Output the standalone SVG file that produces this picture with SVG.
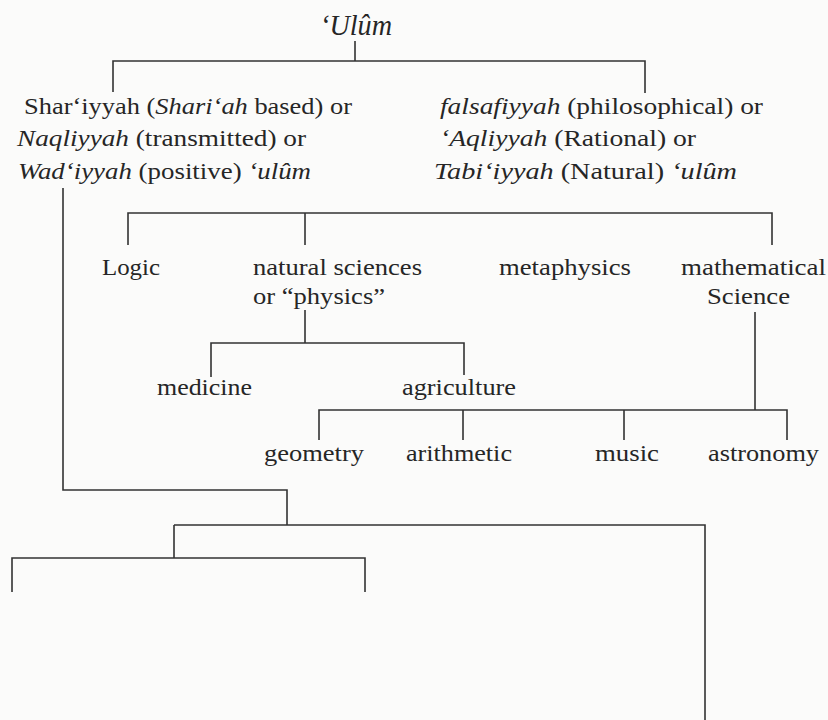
<svg xmlns="http://www.w3.org/2000/svg" width="828" height="720" viewBox="0 0 828 720" font-family="'Liberation Serif', 'DejaVu Serif', serif">
<style>
  text { font-family: 'Liberation Serif', 'DejaVu Serif', serif; fill: #262626; font-size: 24px; }
  .it { font-style: italic; }
  .title { font-size: 30px; font-style: italic; }
  #connectors path { fill: none; stroke: #333; stroke-width: 1.6; }
</style>
<rect width="828" height="720" fill="#fbfbfa"/>
<g id="connectors">
  <path d="M355 41 V61 M113 92 V61 H645 V93"/>
  <path d="M128 245 V213 H772 V245 M305 213 V245"/>
  <path d="M305 310 V343 M211 377 V343 H464 V375"/>
  <path d="M755 312 V410 M319 440 V410 H787 V440 M463 410 V440 M624 410 V440"/>
  <path d="M63 188 V490 H287 V525 M174 525 H705 V720 M174 525 V558 M12 592 V558 H365 V592"/>
</g>
<g id="ulum"><text class="title" x="356" y="35" text-anchor="middle" textLength="72" lengthAdjust="spacingAndGlyphs">‘Ulûm</text></g>
<g id="shariyyah">
  <text x="24" y="114" textLength="328" lengthAdjust="spacingAndGlyphs">Shar‘iyyah (<tspan class="it">Shari‘ah</tspan> based) or</text>
  <text x="17" y="146" textLength="289" lengthAdjust="spacingAndGlyphs"><tspan class="it">Naqliyyah</tspan> (transmitted) or</text>
  <text x="18" y="179" textLength="293" lengthAdjust="spacingAndGlyphs"><tspan class="it">Wad‘iyyah</tspan> (positive) <tspan class="it">‘ulûm</tspan></text>
</g>
<g id="falsafiyyah">
  <text x="440" y="114" textLength="323" lengthAdjust="spacingAndGlyphs"><tspan class="it">falsafiyyah</tspan> (philosophical) or</text>
  <text x="440" y="146" textLength="256" lengthAdjust="spacingAndGlyphs"><tspan class="it">‘Aqliyyah</tspan> (Rational) or</text>
  <text x="434" y="179" textLength="303" lengthAdjust="spacingAndGlyphs"><tspan class="it">Tabi‘iyyah</tspan> (Natural) <tspan class="it">‘ulûm</tspan></text>
</g>
<g id="logic"><text x="102" y="275" textLength="58" lengthAdjust="spacingAndGlyphs">Logic</text></g>
<g id="natural-sciences">
  <text x="253" y="275" textLength="169" lengthAdjust="spacingAndGlyphs">natural sciences</text>
  <text x="253" y="304" textLength="132" lengthAdjust="spacingAndGlyphs">or “physics”</text>
</g>
<g id="metaphysics"><text x="499" y="275" textLength="132" lengthAdjust="spacingAndGlyphs">metaphysics</text></g>
<g id="mathematical-science">
  <text x="681" y="275" textLength="145" lengthAdjust="spacingAndGlyphs">mathematical</text>
  <text x="707" y="304" textLength="83" lengthAdjust="spacingAndGlyphs">Science</text>
</g>
<g id="medicine"><text x="157" y="395" textLength="95" lengthAdjust="spacingAndGlyphs">medicine</text></g>
<g id="agriculture"><text x="402" y="395" textLength="114" lengthAdjust="spacingAndGlyphs">agriculture</text></g>
<g id="geometry"><text x="264" y="461" textLength="100" lengthAdjust="spacingAndGlyphs">geometry</text></g>
<g id="arithmetic"><text x="406" y="461" textLength="106" lengthAdjust="spacingAndGlyphs">arithmetic</text></g>
<g id="music"><text x="595" y="461" textLength="64" lengthAdjust="spacingAndGlyphs">music</text></g>
<g id="astronomy"><text x="708" y="461" textLength="111" lengthAdjust="spacingAndGlyphs">astronomy</text></g>
</svg>
